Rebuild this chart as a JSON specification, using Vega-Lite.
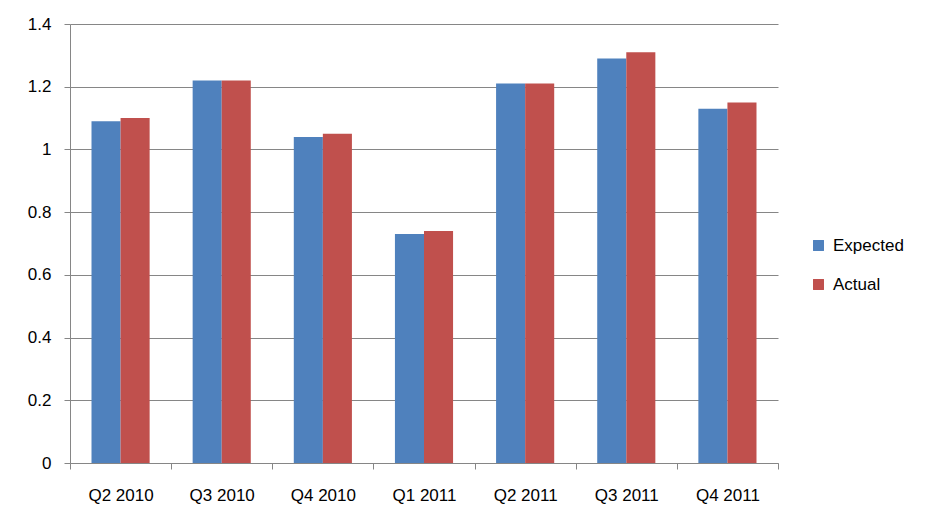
{
  "$schema": "https://vega.github.io/schema/vega-lite/v6.json",
  "width": 708,
  "height": 439,
  "autosize": {"type": "none"},
  "padding": {"left": 70, "top": 24, "right": 150, "bottom": 68},
  "background": "white",
  "data": {
    "values": [
      {"quarter": "Q2 2010", "series": "Expected", "value": 1.09},
      {"quarter": "Q2 2010", "series": "Actual", "value": 1.10},
      {"quarter": "Q3 2010", "series": "Expected", "value": 1.22},
      {"quarter": "Q3 2010", "series": "Actual", "value": 1.22},
      {"quarter": "Q4 2010", "series": "Expected", "value": 1.04},
      {"quarter": "Q4 2010", "series": "Actual", "value": 1.05},
      {"quarter": "Q1 2011", "series": "Expected", "value": 0.73},
      {"quarter": "Q1 2011", "series": "Actual", "value": 0.74},
      {"quarter": "Q2 2011", "series": "Expected", "value": 1.21},
      {"quarter": "Q2 2011", "series": "Actual", "value": 1.21},
      {"quarter": "Q3 2011", "series": "Expected", "value": 1.29},
      {"quarter": "Q3 2011", "series": "Actual", "value": 1.31},
      {"quarter": "Q4 2011", "series": "Expected", "value": 1.13},
      {"quarter": "Q4 2011", "series": "Actual", "value": 1.15}
    ]
  },
  "mark": {"type": "bar"},
  "encoding": {
    "x": {
      "field": "quarter",
      "type": "nominal",
      "sort": null,
      "scale": {"paddingInner": 0, "paddingOuter": 0},
      "axis": {
        "title": null,
        "labelAngle": 0,
        "tickBand": "extent",
        "grid": false,
        "domainColor": "#868686",
        "tickColor": "#868686",
        "tickSize": 6,
        "labelPadding": 18,
        "labelFont": "Liberation Sans",
        "labelFontSize": 17,
        "labelColor": "#000000"
      }
    },
    "xOffset": {
      "field": "series",
      "type": "nominal",
      "sort": ["Expected", "Actual"],
      "scale": {"paddingInner": 0, "paddingOuter": 0.74}
    },
    "y": {
      "field": "value",
      "type": "quantitative",
      "scale": {"domain": [0, 1.4], "nice": false},
      "axis": {
        "title": null,
        "values": [0, 0.2, 0.4, 0.6, 0.8, 1, 1.2, 1.4],
        "format": "~g",
        "grid": true,
        "gridColor": "#868686",
        "domainColor": "#868686",
        "tickColor": "#868686",
        "tickSize": 6,
        "labelPadding": 13,
        "labelFont": "Liberation Sans",
        "labelFontSize": 17,
        "labelColor": "#000000"
      }
    },
    "color": {
      "field": "series",
      "type": "nominal",
      "sort": ["Expected", "Actual"],
      "scale": {"domain": ["Expected", "Actual"], "range": ["#4F81BD", "#C0504D"]},
      "legend": {
        "title": null,
        "orient": "none",
        "legendX": 740,
        "legendY": 213,
        "symbolType": "square",
        "symbolSize": 120,
        "symbolStrokeWidth": 0,
        "labelFont": "Liberation Sans",
        "labelFontSize": 17,
        "labelColor": "#000000",
        "rowPadding": 21,
        "labelOffset": 6
      }
    }
  },
  "config": {
    "view": {"stroke": null},
    "axis": {"domainWidth": 1, "tickWidth": 1, "gridWidth": 1}
  }
}
